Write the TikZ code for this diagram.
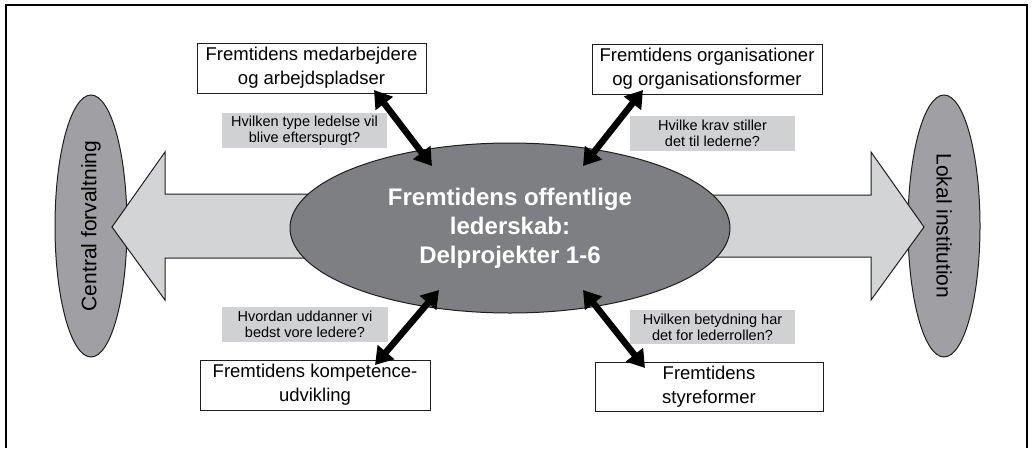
\documentclass[tikz,border=0pt]{standalone}
\usepackage{fontspec}
\setmainfont{Liberation Sans}
\usetikzlibrary{arrows.meta,shapes.geometric}
\definecolor{centergray}{RGB}{126,127,131}
\definecolor{sidegray}{RGB}{160,160,164}
\definecolor{arrowgray}{RGB}{211,212,214}
\definecolor{labelgray}{RGB}{208,209,211}
\definecolor{outline}{RGB}{30,30,30}
\begin{document}
\begin{tikzpicture}[x=1pt,y=-1pt,
  sideell/.style={ellipse, draw=outline, line width=1pt, fill=sidegray, inner sep=0pt,
    minimum width=262pt, minimum height=72pt, font=\fontsize{21}{25}\selectfont},
  centerell/.style={ellipse, draw=outline, line width=1pt, fill=centergray, inner sep=0pt,
    minimum width=440pt, minimum height=170pt, text=white, align=center,
    font=\bfseries\fontsize{24}{29}\selectfont},
  topicbox/.style={rectangle, draw=outline, line width=1pt, fill=white, inner sep=0pt,
    align=center, font=\fontsize{18.5}{24}\selectfont},
  qlabel/.style={rectangle, fill=labelgray, inner sep=0pt, align=center,
    minimum width=165pt, minimum height=35pt, font=\fontsize{14.5}{16}\selectfont},
  bigarrow/.style={draw=outline, line width=1pt, fill=arrowgray, line join=miter},
  dblarrow/.style={line width=6.5pt, draw=black,
    {Triangle[length=17pt,width=21pt]}-{Triangle[length=17pt,width=21pt]}}
]
\useasboundingbox (0,0) rectangle (1033,448);
\draw[line width=2pt] (6,448) -- (6,5) -- (1027,5) -- (1027,448);

% side ellipses
\node[sideell, rotate=90] (cf) at (91,226) {Central forvaltning};
\node[sideell, rotate=-90] (li) at (944,226) {Lokal institution};

% big arrows
\draw[bigarrow] (510,194) -- (165,194) -- (165,152) -- (112,227) -- (165,300) -- (165,258) -- (510,258) -- cycle;
\draw[bigarrow] (510,195) -- (871,195) -- (871,152) -- (924,227) -- (871,300) -- (871,257) -- (510,257) -- cycle;

% center ellipse
\node[centerell] (c) at (510,228) {Fremtidens offentlige\\lederskab:\\Delprojekter 1-6};

% topic boxes
\node[topicbox, minimum width=229pt, minimum height=50pt] (b1) at (311.5,68) {Fremtidens medarbejdere\\og arbejdspladser};
\node[topicbox, minimum width=230pt, minimum height=50pt] (b2) at (707,69) {Fremtidens organisationer\\og organisationsformer};
\node[topicbox, minimum width=230pt, minimum height=50pt] (b3) at (315,385) {Fremtidens kompetence-\\udvikling};
\node[topicbox, minimum width=228pt, minimum height=49pt] (b4) at (709,386.5) {Fremtidens\\styreformer};

% question labels
\node[qlabel] (q1) at (304.5,130.5) {Hvilken type ledelse vil\\blive efterspurgt?};
\node[qlabel] (q2) at (712.5,133.5) {Hvilke krav stiller\\det til lederne?};
\node[qlabel, minimum width=166pt] (q3) at (305,324.5) {Hvordan uddanner vi\\bedst vore ledere?};
\node[qlabel, minimum height=34pt] (q4) at (712.5,327) {Hvilken betydning har\\det for lederrollen?};

% double arrows
\coordinate (a1s) at (374,90);  \coordinate (a1e) at (432,166);
\coordinate (a2s) at (643,90);  \coordinate (a2e) at (583,166);
\coordinate (a3s) at (439,290); \coordinate (a3e) at (375,365);
\coordinate (a4s) at (583,290); \coordinate (a4e) at (645,368);
\draw[dblarrow] (a1s) -- (a1e);
\draw[dblarrow] (a2s) -- (a2e);
\draw[dblarrow] (a3s) -- (a3e);
\draw[dblarrow] (a4s) -- (a4e);
\end{tikzpicture}
\end{document}
